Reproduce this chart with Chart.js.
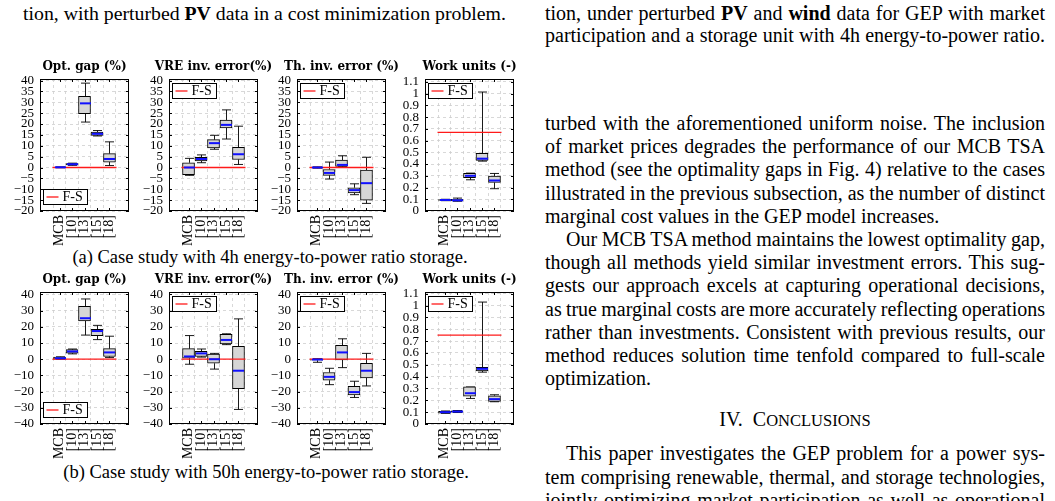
<!DOCTYPE html>
<html>
<head>
<meta charset="utf-8">
<script src="https://cdn.jsdelivr.net/npm/chart.js@4/dist/chart.umd.min.js"></script>
<style>
  body { margin: 0; width: 1055px; height: 501px; overflow: hidden; background: #fff; position: relative;
         font-family: "Liberation Serif", "Times New Roman", serif; color: #000; }
  .ln { position: absolute; font-size: 20px; line-height: 23px; height: 23px; white-space: nowrap; }
  .cap { position: absolute; font-size: 18.5px; line-height: 22px; white-space: nowrap; text-align: center; width: 530px; }
  .panel { position: absolute; }
  .sc { font-size: 16.5px; }
</style>
</head>
<body>

<div class="ln" style="left:23px; top:2px; font-size:19.8px;">tion, with perturbed <b>PV</b> data in a cost minimization problem.</div>

<div class="ln just" style="left:545px; top:2px; width:500px;">tion, under perturbed <b>PV</b> and <b>wind</b> data for GEP with market</div>
<div class="ln just" style="left:545px; top:24px; width:500px;">participation and a storage unit with 4h energy-to-power ratio.</div>

<div class="ln just" style="left:545px; top:112px; width:500px;">turbed with the aforementioned uniform noise. The inclusion</div>
<div class="ln just" style="left:545px; top:135px; width:500px;">of market prices degrades the performance of our MCB TSA</div>
<div class="ln just" style="left:545px; top:158px; width:500px;">method (see the optimality gaps in Fig. 4) relative to the cases</div>
<div class="ln just" style="left:545px; top:182px; width:500px;">illustrated in the previous subsection, as the number of distinct</div>
<div class="ln" style="left:545px; top:205px;">marginal cost values in the GEP model increases.</div>
<div class="ln just" style="left:566px; top:228px; width:479px;">Our MCB TSA method maintains the lowest optimality gap,</div>
<div class="ln just" style="left:545px; top:251px; width:500px;">though all methods yield similar investment errors. This sug-</div>
<div class="ln just" style="left:545px; top:274px; width:500px;">gests our approach excels at capturing operational decisions,</div>
<div class="ln just" style="left:545px; top:298px; width:500px;">as true marginal costs are more accurately reflecting operations</div>
<div class="ln just" style="left:545px; top:321px; width:500px;">rather than investments. Consistent with previous results, our</div>
<div class="ln just" style="left:545px; top:344px; width:500px;">method reduces solution time tenfold compared to full-scale</div>
<div class="ln" style="left:545px; top:367px;">optimization.</div>
<div class="ln" style="left:545px; top:408px; width:500px; text-align:center; font-size:20px;">IV.&nbsp; C<span class="sc">ONCLUSIONS</span></div>
<div class="ln just" style="left:566px; top:442px; width:479px;">This paper investigates the GEP problem for a power sys-</div>
<div class="ln just" style="left:545px; top:466px; width:500px;">tem comprising renewable, thermal, and storage technologies,</div>
<div class="ln just" style="left:545px; top:489px; width:500px;">jointly optimizing market participation as well as operational</div>

<div class="cap" style="top:246px; left:5px;">(a) Case study with 4h energy-to-power ratio storage.</div>
<div class="cap" style="top:461px; left:1px;">(b) Case study with 50h energy-to-power ratio storage.</div>

<div class="panel" style="left:0px; top:59px;"><canvas id="a1" width="169" height="194"></canvas></div>
<div class="panel" style="left:129px; top:59px;"><canvas id="a2" width="169" height="194"></canvas></div>
<div class="panel" style="left:257px; top:59px;"><canvas id="a3" width="169" height="194"></canvas></div>
<div class="panel" style="left:385px; top:59px;"><canvas id="a4" width="169" height="194"></canvas></div>
<div class="panel" style="left:0px; top:272px;"><canvas id="b1" width="169" height="194"></canvas></div>
<div class="panel" style="left:129px; top:272px;"><canvas id="b2" width="169" height="194"></canvas></div>
<div class="panel" style="left:257px; top:272px;"><canvas id="b3" width="169" height="194"></canvas></div>
<div class="panel" style="left:385px; top:272px;"><canvas id="b4" width="169" height="194"></canvas></div>

<script>
const methods = ['MCB', '[10]', '[13]', '[15]', '[18]'];
const titles = ['Opt. gap (%)', 'VRE inv. error(%)', 'Th. inv. error (%)', 'Work units (-)'];

// one row per method: [min, q1, median, q3, max]
const optGapA = [[-0.1, 0, 0.1, 0.2, 0.3], [1.0, 1.2, 1.5, 1.8, 2.0], [20.9, 24.7, 29.5, 32.7, 38.8], [14.5, 14.8, 15.5, 16.3, 17.0], [0.9, 2.5, 3.9, 6.4, 11.8]];
const vreErrA = [[-3.6, -3.3, 0, 2.2, 4.2], [2.2, 3.0, 3.9, 4.7, 5.8], [8.4, 9.0, 11.2, 12.8, 14.8], [13.1, 18.2, 19.6, 21.8, 26.5], [1.4, 3.7, 6.1, 9.3, 19.0]];
const thErrA = [[-0.3, -0.15, 0, 0.15, 0.3], [-5.3, -3.6, -2.5, -0.9, 2.5], [0.3, 0.5, 1.2, 3.4, 5.4], [-12.5, -11.7, -10.4, -9.3, -7.5], [-16.5, -15, -7.2, -1.2, 4.7]];
const workA = [[0.088, 0.09, 0.094, 0.098, 0.1], [0.083, 0.085, 0.091, 0.1, 0.11], [0.266, 0.283, 0.3, 0.32, 0.323], [0.425, 0.431, 0.446, 0.491, 1.014], [0.19, 0.243, 0.26, 0.297, 0.32]];

const optGapB = [[0, 0.1, 0.6, 1.3, 1.5], [3.3, 3.8, 4.8, 5.9, 6.3], [14.9, 23.6, 25.3, 32.6, 37.2], [12.1, 14.6, 17.4, 18.4, 20.9], [1.0, 1.7, 4.2, 6.5, 14.2]];
const vreErrB = [[-3.1, 0.6, 1.7, 6.5, 14.6], [1.3, 1.7, 3.6, 4.8, 6.3], [-6.1, -2.5, 0, 3.1, 3.6], [9.0, 9.4, 11.9, 15.3, 15.7], [-31, -18.2, -7.1, 8.0, 24.9]];
const thErrB = [[-1.9, -0.6, -0.2, 0, 0.4], [-15.7, -13, -10.9, -8.2, -5.6], [-5.2, -0.4, 4.2, 8.6, 12.6], [-23.6, -22, -20.3, -16.7, -13.6], [-16.5, -11.5, -7.1, -2.5, 3.6]];
const workB = [[0.09, 0.091, 0.1, 0.108, 0.11], [0.097, 0.099, 0.105, 0.112, 0.114], [0.216, 0.236, 0.26, 0.313, 0.313], [0.438, 0.449, 0.466, 0.478, 1.03], [0.188, 0.19, 0.21, 0.239, 0.247]];

// full-scale (F-S) reference value per panel
const fullScaleA = [0, 0, 0, 0.67];
const fullScaleB = [0, 0, 0, 0.75];

// stretch the justified text lines to the column width
document.querySelectorAll('.just').forEach(el => {
  const r = document.createRange();
  r.selectNodeContents(el);
  const w = r.getBoundingClientRect().width;
  const gaps = el.textContent.trim().split(/\s+/).length - 1;
  el.style.wordSpacing = ((el.clientWidth - w) / gaps) + 'px';
});

const FONT = '"Liberation Serif", "Times New Roman", serif';
const TITLE_FONT = '"DejaVu Serif", serif';
const BOX_W = 12, CAP_W = 9;

function fmtTick(v) {
  const r = Math.round(v * 10) / 10;
  return r < 0 ? '\u2212' + Math.abs(r) : String(r);
}

const boxExtras = {
  id: 'boxExtras',
  beforeDatasetsDraw(chart, args, opts) {
    const ctx = chart.ctx, x = chart.scales.x, y = chart.scales.y;
    ctx.save();
    ctx.strokeStyle = '#000';
    ctx.lineWidth = 0.9;
    opts.stats.forEach((s, i) => {
      const px = Math.round(x.getPixelForValue(i)) + 0.5;
      ctx.beginPath();
      ctx.moveTo(px, y.getPixelForValue(s[0]));
      ctx.lineTo(px, y.getPixelForValue(s[1]));
      ctx.moveTo(px, y.getPixelForValue(s[3]));
      ctx.lineTo(px, y.getPixelForValue(s[4]));
      ctx.moveTo(px - CAP_W / 2, y.getPixelForValue(s[0]));
      ctx.lineTo(px + CAP_W / 2, y.getPixelForValue(s[0]));
      ctx.moveTo(px - CAP_W / 2, y.getPixelForValue(s[4]));
      ctx.lineTo(px + CAP_W / 2, y.getPixelForValue(s[4]));
      ctx.stroke();
    });
    ctx.restore();
  },
  afterDatasetsDraw(chart, args, opts) {
    const ctx = chart.ctx, x = chart.scales.x, y = chart.scales.y;
    ctx.save();
    // full-scale reference line
    const fy = y.getPixelForValue(opts.fs);
    ctx.strokeStyle = '#ff1a1a';
    ctx.lineWidth = 1.3;
    ctx.beginPath();
    ctx.moveTo(x.getPixelForValue(0) - BOX_W / 2 - 1, fy);
    ctx.lineTo(x.getPixelForValue(methods.length - 1) + BOX_W / 2 + 1, fy);
    ctx.stroke();
    // medians
    ctx.strokeStyle = '#1010ff';
    ctx.lineWidth = 2;
    opts.stats.forEach((s, i) => {
      const px = Math.round(x.getPixelForValue(i)) + 0.5;
      const py = y.getPixelForValue(s[2]);
      ctx.beginPath();
      ctx.moveTo(px - BOX_W / 2 + 0.5, py);
      ctx.lineTo(px + BOX_W / 2 - 0.5, py);
      ctx.stroke();
    });
    ctx.restore();
  },
  afterDraw(chart, args, opts) {
    const ctx = chart.ctx, a = chart.chartArea, x = chart.scales.x, y = chart.scales.y;
    ctx.save();
    ctx.strokeStyle = '#000';
    ctx.lineWidth = 1;
    // inner tick marks
    ctx.beginPath();
    x.ticks.forEach(t => {
      const px = Math.round(x.getPixelForValue(t.value)) + 0.5;
      ctx.moveTo(px, a.bottom); ctx.lineTo(px, a.bottom - 3);
      ctx.moveTo(px, a.top); ctx.lineTo(px, a.top + 3);
    });
    y.ticks.forEach(t => {
      const py = Math.round(y.getPixelForValue(t.value)) + 0.5;
      ctx.moveTo(a.left, py); ctx.lineTo(a.left + 3, py);
      ctx.moveTo(a.right, py); ctx.lineTo(a.right - 3, py);
    });
    ctx.stroke();
    // frame
    ctx.strokeRect(Math.round(a.left) + 0.5, Math.round(a.top) + 0.5,
      Math.round(a.right - a.left) - 1, Math.round(a.bottom - a.top) - 1);
    // legend box
    const lw = 44, lh = 15;
    const lx = Math.round(a.left) + 3.5;
    const ly = opts.legend === 'bottom' ? Math.round(a.bottom) - lh - 6.5 : Math.round(a.top) + 4.5;
    ctx.fillStyle = '#fff';
    ctx.fillRect(lx, ly, lw, lh);
    ctx.strokeRect(lx, ly, lw, lh);
    ctx.strokeStyle = '#ff1a1a';
    ctx.lineWidth = 1.3;
    ctx.beginPath();
    ctx.moveTo(lx + 3, ly + lh / 2);
    ctx.lineTo(lx + 15, ly + lh / 2);
    ctx.stroke();
    ctx.fillStyle = '#000';
    ctx.font = '14px ' + FONT;
    ctx.textBaseline = 'middle';
    ctx.fillText('F-S', lx + 19, ly + lh / 2 + 0.5);
    ctx.restore();
  }
};

function makePanel(id, stats, fs, title, yMin, yMax, step, legendPos) {
  new Chart(document.getElementById(id), {
    type: 'bar',
    data: {
      datasets: [{
        data: stats.map((s, i) => ({ x: i, y: [s[1], s[3]] })),
        backgroundColor: '#d6d6d6',
        borderColor: '#000',
        borderWidth: 1,
        borderSkipped: false,
        barThickness: BOX_W
      }]
    },
    options: {
      responsive: false,
      devicePixelRatio: 1,
      animation: false,
      events: [],
      layout: { padding: 0 },
      scales: {
        x: {
          type: 'linear',
          min: -0.85,
          max: methods.length - 1 + 0.85,
          afterBuildTicks: (scale) => { scale.ticks = methods.map((m, i) => ({ value: i })); },
          afterFit: (scale) => { scale.height = 42; },
          border: { display: false, dash: [3, 3] },
          grid: { color: '#cfcfcf', lineWidth: 0.8, drawTicks: false },
          ticks: {
            autoSkip: false, minRotation: 90, maxRotation: 90, padding: 4,
            color: '#000', font: { family: FONT, size: 14 },
            callback: (v) => methods[v]
          }
        },
        y: {
          min: yMin,
          max: yMax,
          afterFit: (scale) => { scale.width = 40; },
          border: { display: false, dash: [3, 3] },
          grid: { color: '#cfcfcf', lineWidth: 0.8, drawTicks: false },
          ticks: {
            stepSize: step, includeBounds: false, autoSkip: false, padding: 6,
            color: '#000', font: { family: FONT, size: 13 },
            callback: fmtTick
          }
        },
        // empty right-hand axis of the same width, so the title centres over the plot
        yPad: {
          position: 'right',
          min: yMin,
          max: yMax,
          afterFit: (scale) => { scale.width = 40; },
          border: { display: false },
          grid: { display: false },
          ticks: { display: false }
        }
      },
      plugins: {
        legend: { display: false },
        tooltip: { enabled: false },
        title: {
          display: true, text: title, fullSize: true, color: '#000',
          font: { family: TITLE_FONT, size: 12, weight: 'bold' },
          padding: { top: 1, bottom: 4.6 }
        },
        boxExtras: { stats: stats, fs: fs, legend: legendPos }
      }
    },
    plugins: [boxExtras]
  });
}

makePanel('a1', optGapA, fullScaleA[0], titles[0], -20, 40.7, 5, 'bottom');
makePanel('a2', vreErrA, fullScaleA[1], titles[1], -20, 40.7, 5, 'top');
makePanel('a3', thErrA, fullScaleA[2], titles[2], -20, 40.7, 5, 'top');
makePanel('a4', workA, fullScaleA[3], titles[3], 0, 1.125, 0.1, 'top');
makePanel('b1', optGapB, fullScaleB[0], titles[0], -40, 41.5, 10, 'bottom');
makePanel('b2', vreErrB, fullScaleB[1], titles[1], -40, 41.5, 10, 'top');
makePanel('b3', thErrB, fullScaleB[2], titles[2], -40, 41.5, 10, 'top');
makePanel('b4', workB, fullScaleB[3], titles[3], 0, 1.115, 0.1, 'top');
</script>
</body>
</html>
